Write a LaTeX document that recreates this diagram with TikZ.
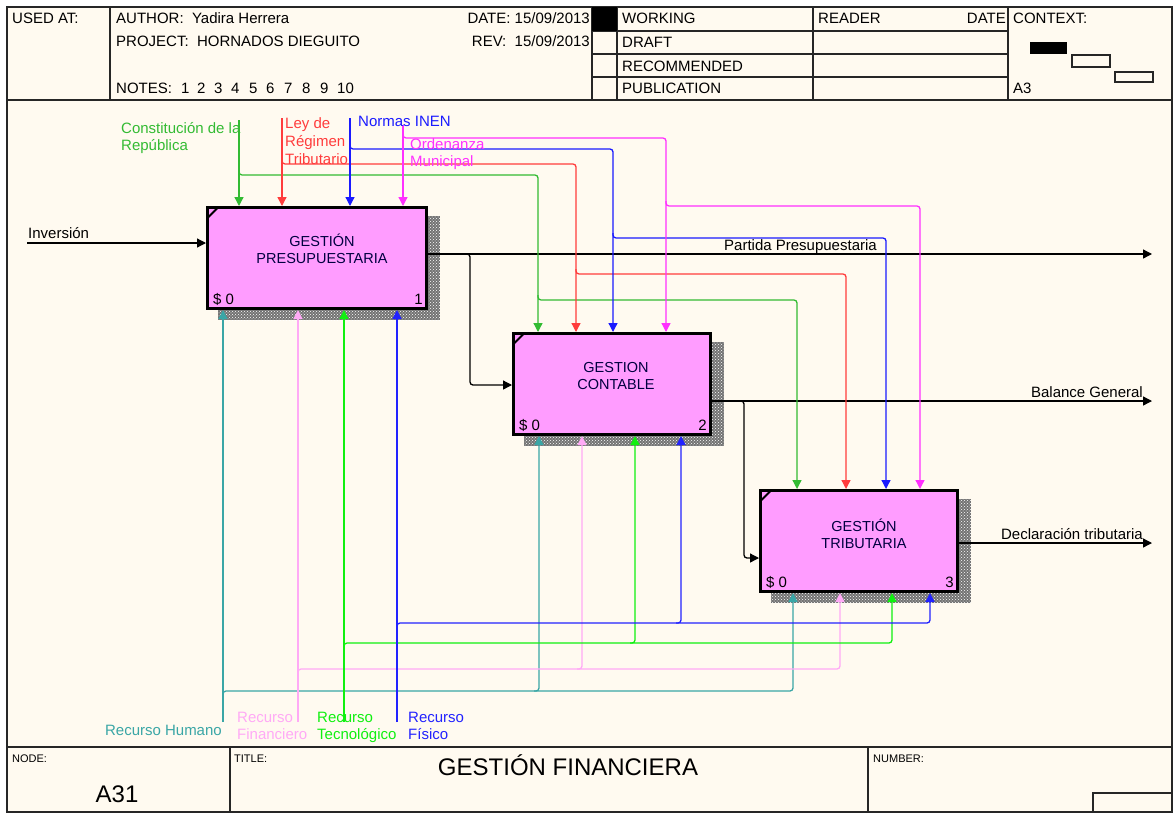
\documentclass[tikz,border=0pt]{standalone}
\usepackage{fontspec}
\setmainfont{Liberation Sans}
\usetikzlibrary{arrows.meta,patterns,calc}
\newcommand\mystrut{\rule{0pt}{14pt}}
\definecolor{cream}{HTML}{FFFAF0}
\definecolor{boxpink}{HTML}{FF9CFF}
\definecolor{cgreen}{HTML}{33BB33}
\definecolor{cred}{HTML}{FF3C3C}
\definecolor{cblue}{HTML}{1A1AFF}
\definecolor{cmag}{HTML}{FF30FF}
\definecolor{mteal}{HTML}{3AA6A6}
\definecolor{mpink}{HTML}{FFAAF6}
\definecolor{mgreen}{HTML}{10F010}
\definecolor{mblue}{HTML}{2222FF}
\begin{document}
\begin{tikzpicture}[x=1pt,y=-1pt,
  every node/.style={inner sep=0pt, font=\fontsize{15}{17}\selectfont},
  frameline/.style={line width=1.8pt, draw=black!85},
  cell/.style={line width=1.2pt, draw=black!85},
  hdr/.style={anchor=base west},
  box/.style={draw=black, line width=3pt, fill=boxpink},
  shadowbase/.style={fill=black!55},
  shadow/.style={pattern=crosshatch dots, pattern color=white},
  boxtext/.style={align=center, text=black!75!blue, font=\fontsize{14.5}{17}\selectfont},
  wire/.style={line width=1.3pt, rounded corners=3pt},
  tip/.style={-{Triangle[length=9pt,width=9pt]}},
  lbl/.style={anchor=base west},
  lbltwo/.style={anchor=north west, align=left},
  small/.style={font=\fontsize{11}{13}\selectfont},
  big/.style={font=\fontsize{24}{28}\selectfont},
]
\useasboundingbox (0,0) rectangle (1174,814);
\fill[white] (0,0) rectangle (1174,814);
\draw[frameline, fill=cream] (7,7) rectangle (1172,812);

% ---------- header ----------
\draw[frameline] (7,100) -- (1172,100);
\draw[cell] (110,7) -- (110,100);
\draw[cell] (592,7) -- (592,100);
\draw[cell] (617,7) -- (617,100);
\draw[cell] (813,7) -- (813,100);
\draw[cell] (1008,7) -- (1008,100);
\foreach \yy in {31,54,77} \draw[cell] (592,\yy) -- (1008,\yy);
\fill[black] (592,7) rectangle (617,31);

\node[hdr] (usedat) at (12,23) {USED AT:};
\node[hdr] (author) at (116,23) {AUTHOR:\ \ Yadira Herrera};
\node[hdr] (project) at (116,46) {PROJECT:\ \ HORNADOS DIEGUITO};
\node[hdr] (notes) at (116,93) {NOTES:};
\foreach \n/\xx in {1/181,2/197,3/214,4/231,5/249,6/266,7/284,8/302,9/320,10/337}
  \node[hdr] (note\n) at (\xx,93) {\n};
\node[anchor=base east] (date) at (590,23) {DATE: 15/09/2013};
\node[anchor=base east] (rev) at (590,46) {REV:\ \ 15/09/2013};
\node[hdr] (working) at (622,23) {WORKING};
\node[hdr] (draft) at (622,47) {DRAFT};
\node[hdr] (recom) at (622,71) {RECOMMENDED};
\node[hdr] (publi) at (622,93) {PUBLICATION};
\node[hdr] (reader) at (818,23) {READER};
\node[anchor=base east] (rdate) at (1006,23) {DATE};
\node[hdr] (context) at (1013,23) {CONTEXT:};
\node[hdr] (a3) at (1013,93) {A3};
\fill[black] (1030,42) rectangle (1067,54);
\draw[cell] (1072,55) rectangle (1110,67);
\draw[cell] (1115,72) rectangle (1153,82);

% ---------- footer ----------
\draw[frameline] (7,747) -- (1172,747);
\draw[cell] (230,747) -- (230,812);
\draw[cell] (868,747) -- (868,812);
\draw[cell] (1093,793) rectangle (1172,812);
\node[hdr, small] (nodelbl) at (12,762) {NODE:};
\node[anchor=base, big] (nodeval) at (117,802) {A31};
\node[hdr, small] (titlelbl) at (234,762) {TITLE:};
\node[anchor=base, big] (titleval) at (568,775) {GESTIÓN FINANCIERA};
\node[hdr, small] (numlbl) at (873,762) {NUMBER:};

% ---------- boxes ----------
\foreach \xa/\ya/\xb/\yb in {218/216/440/320, 524/342/724/446, 771/499/971/603}{
  \fill[shadowbase] (\xa,\ya) rectangle (\xb,\yb);
  \fill[shadow] (\xa,\ya) rectangle (\xb,\yb);
}
\node[box, minimum width=219pt, minimum height=101pt] (b1) at (317,258) {};
\node[box, minimum width=197pt, minimum height=101pt] (b2) at (612,384) {};
\node[box, minimum width=197pt, minimum height=101pt] (b3) at (859,541) {};
\foreach \b in {b1,b2,b3}
  \draw[line width=2pt] ($(\b.north west)+(1.5,12)$) -- ($(\b.north west)+(12,1.5)$);
\node[boxtext] (t1) at (322,249) {GESTIÓN\\PRESUPUESTARIA};
\node[boxtext] (t2) at (616,376) {GESTION\\CONTABLE};
\node[boxtext] (t3) at (864,534) {GESTIÓN\\TRIBUTARIA};
\node[lbl] (s1) at ($(b1.south west)+(7,-6)$) {\$ 0};
\node[anchor=base east] (n1) at ($(b1.south east)+(-5,-6)$) {1};
\node[lbl] (s2) at ($(b2.south west)+(7,-6)$) {\$ 0};
\node[anchor=base east] (n2) at ($(b2.south east)+(-5,-6)$) {2};
\node[lbl] (s3) at ($(b3.south west)+(7,-6)$) {\$ 0};
\node[anchor=base east] (n3) at ($(b3.south east)+(-5,-6)$) {3};

% ---------- inputs / outputs ----------
\coordinate (inv) at (27,243);
\draw[wire,tip] (inv) -- (inv -| b1.west);
\node[lbl] (linv) at (28,238) {Inversión};

\coordinate (o1) at (1152,254);
\draw[wire,tip] (o1 -| b1.east) -- (o1);
\node[lbl] (lo1) at (724,250) {Partida Presupuestaria};
\coordinate (j1) at (470,254);
\coordinate (in2) at (470,385);
\draw[wire,tip] ($(j1)+(-5,0)$) -| (in2) -- (in2 -| b2.west);

\coordinate (o2) at (1152,401);
\draw[wire,tip] (o2 -| b2.east) -- (o2);
\node[anchor=base east] (lo2) at (1143,397) {Balance General};
\coordinate (j2) at (744,401);
\coordinate (in3) at (744,558);
\draw[wire,tip] ($(j2)+(-5,0)$) -| (in3) -- (in3 -| b3.west);

\coordinate (o3) at (1152,543);
\draw[wire,tip] (o3 -| b3.east) -- (o3);
\node[anchor=base east] (lo3) at (1143,539) {Declaración tributaria};

% ---------- controls ----------
\coordinate (cg) at (239,120); \coordinate (cg1) at (538,175); \coordinate (cg2) at (797,300);
\coordinate (cr) at (282,118); \coordinate (cr1) at (576,164); \coordinate (cr2) at (846,274);
\coordinate (cb) at (350,118); \coordinate (cb1) at (613,149); \coordinate (cb2) at (886,238);
\coordinate (cm) at (403,125); \coordinate (cm1) at (666,138); \coordinate (cm2) at (920,206);
\foreach \c/\col in {cg/cgreen,cr/cred,cb/cblue,cm/cmag}{
  \draw[wire,tip,\col] (\c) -- (\c |- b1.north);
  \draw[wire,tip,\col] ($(\c |- \c1)+(0,-5)$) |- (\c1) -- (\c1 |- b2.north);
  \draw[wire,tip,\col] ($(\c1 |- \c2)+(0,-5)$) |- (\c2) -- (\c2 |- b3.north);
}
\node[lbltwo, text=cgreen] (lcg) at (121,119) {\mystrut Constitución de la\\\mystrut República};
\node[lbltwo, text=cred] (lcr) at (285,114) {\mystrut Ley de\\\mystrut Régimen\\\mystrut Tributario};
\node[lbl, text=cblue] (lcb) at (358,126) {Normas INEN};
\node[lbltwo, text=cmag] (lcm) at (410,135) {\mystrut Ordenanza\\\mystrut Municipal};

% ---------- mechanisms ----------
\coordinate (mt) at (223,722); \coordinate (mt1) at (539,691); \coordinate (mt2) at (793,691);
\coordinate (mp) at (298,722); \coordinate (mp1) at (582,669); \coordinate (mp2) at (840,669);
\coordinate (mg) at (344,722); \coordinate (mg1) at (635,643); \coordinate (mg2) at (892,643);
\coordinate (mb) at (397,722); \coordinate (mb1) at (681,623); \coordinate (mb2) at (930,623);
\foreach \m/\col in {mt/mteal,mp/mpink,mg/mgreen,mb/mblue}{
  \draw[wire,tip,\col] (\m) -- (\m |- b1.south);
  \draw[wire,tip,\col] ($(\m |- \m2)+(0,5)$) |- (\m2) -- (\m2 |- b3.south);
  \draw[wire,tip,\col] ($(\m1)+(-5,0)$) -| (\m1 |- b2.south);
}
\node[anchor=base east, text=mteal] (lmt) at (222,735) {Recurso Humano};
\node[lbltwo, text=mpink] (lmp) at (237,708) {\mystrut Recurso\\\mystrut Financiero};
\node[lbltwo, text=mgreen] (lmg) at (317,708) {\mystrut Recurso\\\mystrut Tecnológico};
\node[lbltwo, text=mblue] (lmb) at (408,708) {\mystrut Recurso\\\mystrut Físico};
\end{tikzpicture}
\end{document}
